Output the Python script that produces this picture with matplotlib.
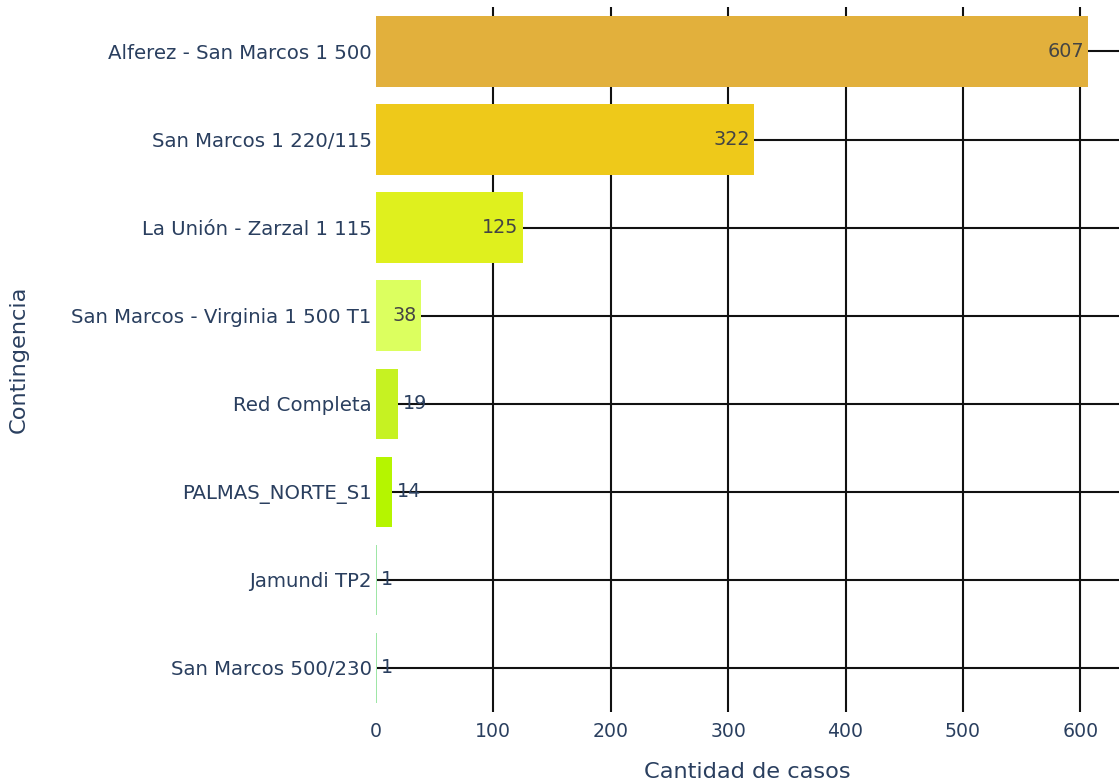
import matplotlib.pyplot as plt

plt.rcParams['font.family'] = ['DejaVu Sans']

# datos
contingencias = ['Alferez - San Marcos 1 500', 'San Marcos 1 220/115', 'La Unión - Zarzal 1 115',
                 'San Marcos - Virginia 1 500 T1', 'Red Completa', 'PALMAS_NORTE_S1',
                 'Jamundi TP2', 'San Marcos 500/230']
casos = [607, 322, 125, 38, 19, 14, 1, 1]
colores = ['#e2b03c', '#eec91a', '#dff01e', '#dcff5f', '#c6f222', '#b5f500', '#9ee6a6', '#9ee6a6']
xticks = [0, 100, 200, 300, 400, 500, 600]

txt_color = '#2a3f5f'

fig = plt.figure(figsize=(11.19, 7.82), dpi=100)
ax = fig.add_axes([0.336, 0.0895, 0.664, 0.901])

pos = list(range(len(contingencias)))
bars = ax.barh(pos, casos, height=0.8, color=colores, zorder=2)

ax.set_xlim(0, 633)
ax.set_ylim(len(contingencias) - 0.5, -0.5)
ax.set_yticks(pos)
ax.set_yticklabels(contingencias)
ax.set_xticks(xticks)

ax.grid(True, color='#111111', lw=1.5, zorder=0)
ax.set_axisbelow(True)
# sin linea de grilla en x=0
ax.xaxis.get_gridlines()[0].set_visible(False)
for s in ax.spines.values():
    s.set_visible(False)
ax.tick_params(length=0, labelcolor=txt_color)
ax.tick_params(axis='y', pad=3, labelsize=14.2)
ax.tick_params(axis='x', pad=7, labelsize=13.6)

# etiquetas de valores
for p, v in zip(pos, casos):
    if v >= 30:
        ax.annotate(str(v), (v, p), xytext=(-3, 0), textcoords='offset points',
                    ha='right', va='center', fontsize=13.8, color='#444444', zorder=3)
    else:
        ax.annotate(str(v), (v, p), xytext=(3, 0), textcoords='offset points',
                    ha='left', va='center', fontsize=13.8, color=txt_color, zorder=3)

ax.set_xlabel('Cantidad de casos', fontsize=16.2, color=txt_color, labelpad=15)
ax.set_ylabel('Contingencia', fontsize=16.2, color=txt_color)
ax.yaxis.set_label_coords(-0.467, 0.5)

fig.savefig('out.png', dpi=100)
